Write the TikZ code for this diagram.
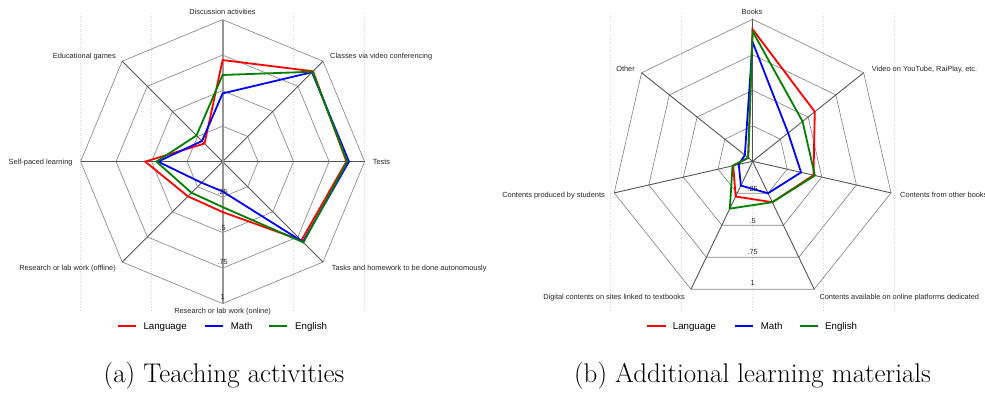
\documentclass[tikz,border=0pt]{standalone}
\usepackage{fontspec}
\newfontfamily\arialf{Liberation Sans}
\definecolor{lang}{RGB}{255,0,0}
\definecolor{mathc}{RGB}{0,0,255}
\definecolor{engl}{RGB}{0,128,0}
\definecolor{ringc}{RGB}{128,128,128}
\definecolor{spokec}{RGB}{85,85,85}
\definecolor{vaxis}{RGB}{150,150,150}
\definecolor{dotc}{RGB}{215,215,215}
\begin{document}
\begin{tikzpicture}[x=1pt,y=1pt,
  lab/.style={font=\arialf\fontsize{7.4}{8}\selectfont, inner sep=0pt, text=black!85},
  rlab/.style={font=\arialf\fontsize{7.4}{8}\selectfont, inner sep=0pt, text=black!85, anchor=center},
  leg/.style={font=\arialf\fontsize{9.7}{11}\selectfont, inner sep=0pt, anchor=base west},
  legline/.style={line width=1.8pt},
  ring/.style={draw=ringc, line width=0.6pt},
  spoke/.style={draw=spokec, line width=0.9pt},
  series/.style={line width=1.8pt, line join=miter},
  gridv/.style={draw=dotc, dotted, line width=0.6pt},
  captext/.style={font=\fontsize{27}{31}\selectfont, inner sep=0pt, anchor=base}]
\useasboundingbox (0,0) rectangle (985,394);
\fill[white] (0,0) rectangle (985,394);

% ---------------- left chart ----------------
\begin{scope}[shift={(222.6,232.4)}]
  \foreach \dx in {-142,-71,71,142} \draw[gridv] (\dx,148.3) -- (\dx,-150.1);
  \foreach \f in {0.25,0.5,0.75,1}
    \draw[ring] (90:{\f*142}) \foreach \a in {45,0,-45,-90,-135,180,135} { -- (\a:{\f*142}) } -- cycle;
  \foreach \a in {45,0,-45,-135,180,135} \draw[spoke] (0,0) -- (\a:142);
  \draw[vaxis, line width=1.8pt] (0,-142) -- (0,142);
  \foreach \a/\v [count=\i] in {90/0.715,45/0.90,0/0.872,-45/0.785,-90/0.355,-135/0.346,180/0.545,135/0.18}
    \coordinate (Lr\i) at (\a:{\v*142});
  \foreach \a/\v [count=\i] in {90/0.48,45/0.89,0/0.89,-45/0.80,-90/0.21,-135/0.21,180/0.455,135/0.205}
    \coordinate (Lb\i) at (\a:{\v*142});
  \foreach \a/\v [count=\i] in {90/0.61,45/0.895,0/0.878,-45/0.805,-90/0.32,-135/0.31,180/0.466,135/0.26}
    \coordinate (Lg\i) at (\a:{\v*142});
  \draw[series, lang] (Lr1) \foreach \i in {2,...,8} { -- (Lr\i) } -- cycle;
  \draw[series, mathc] (Lb1) \foreach \i in {2,...,8} { -- (Lb\i) } -- cycle;
  \draw[series, engl] (Lg1) \foreach \i in {2,...,8} { -- (Lg\i) } -- cycle;
  \node[rlab] (Lt25) at (0,-30.7) {.25};
  \node[rlab] (Lt50) at (0,-66.1) {.5};
  \node[rlab] (Lt75) at (0,-100.1) {.75};
  \node[rlab] (Lt100) at (0,-135.7) {1};
\end{scope}
\node[lab, anchor=base] (la1) at (222.6,379.0) {Discussion activities};
\node[lab, anchor=base west] (la2) at (330,335.4) {Classes via video conferencing};
\node[lab, anchor=base east] (la8) at (116,335.4) {Educational games};
\node[lab, anchor=base east] (la7) at (72.7,229.7) {Self-paced learning};
\node[lab, anchor=base west] (la3) at (372.7,229.7) {Tests};
\node[lab, anchor=base west] (la4) at (331.7,124.0) {Tasks and homework to be done autonomously};
\node[lab, anchor=base east] (la6) at (116,124.0) {Research or lab work (offline)};
\node[lab, anchor=base] (la5) at (222.6,80.3) {Research or lab work (online)};

\coordinate (lk1a) at (118.3,68); \coordinate (lk1b) at (136,68);
\coordinate (lk2a) at (205,68);   \coordinate (lk2b) at (222.7,68);
\coordinate (lk3a) at (269.3,68); \coordinate (lk3b) at (287.3,68);
\draw[legline, lang] (lk1a) -- (lk1b);
\draw[legline, mathc] (lk2a) -- (lk2b);
\draw[legline, engl] (lk3a) -- (lk3b);
\node[leg] (lg1) at (143.3,64.5) {Language};
\node[leg] (lg2) at (230.7,64.5) {Math};
\node[leg] (lg3) at (295,64.5) {English};

% ---------------- right chart ----------------
\begin{scope}[shift={(752.6,232.7)}]
  \foreach \dx in {-142,-71,0,71,142} \draw[gridv] (\dx,148.0) -- (\dx,-150.4);
  \foreach \f in {0.25,0.5,0.75,1}
    \draw[ring] (90:{\f*142}) \foreach \a in {38.571,-12.857,-64.286,-115.714,-167.143,141.429} { -- (\a:{\f*142}) } -- cycle;
  \foreach \a in {90,38.571,-12.857,-64.286,-115.714,-167.143,141.429} \draw[spoke] (0,0) -- (\a:142);
  \foreach \a/\v [count=\i] in {90/0.93,38.571/0.56,-12.857/0.44,-64.286/0.32,-115.714/0.275,-167.143/0.14,141.429/0.04}
    \coordinate (Rr\i) at (\a:{\v*142});
  \foreach \a/\v [count=\i] in {90/0.84,38.571/0.32,-12.857/0.35,-64.286/0.25,-115.714/0.19,-167.143/0.10,141.429/0.07}
    \coordinate (Rb\i) at (\a:{\v*142});
  \foreach \a/\v [count=\i] in {90/0.915,38.571/0.45,-12.857/0.45,-64.286/0.32,-115.714/0.37,-167.143/0.145,141.429/0.04}
    \coordinate (Rg\i) at (\a:{\v*142});
  \draw[series, lang] (Rr1) \foreach \i in {2,...,7} { -- (Rr\i) } -- cycle;
  \draw[series, mathc] (Rb1) \foreach \i in {2,...,7} { -- (Rb\i) } -- cycle;
  \draw[series, engl] (Rg1) \foreach \i in {2,...,7} { -- (Rg\i) } -- cycle;
  \node[rlab] (Rt25) at (0,-28) {.25};
  \node[rlab] (Rt50) at (0,-59.7) {.5};
  \node[rlab] (Rt75) at (0,-90.4) {.75};
  \node[rlab] (Rt100) at (0,-122) {1};
\end{scope}
\node[lab, anchor=base] (rb1) at (752,379.0) {Books};
\node[lab, anchor=base west] (rb2) at (871.7,322.4) {Video on YouTube, RaiPlay, etc.};
\node[lab, anchor=base east] (rb7) at (635,322.4) {Other};
\node[lab, anchor=base west] (rb3) at (900,196.4) {Contents from other books};
\node[lab, anchor=base east] (rb6) at (605,196.4) {Contents produced by students};
\node[lab, anchor=base east] (rb5) at (685,94.7) {Digital contents on sites linked to textbooks};
\node[lab, anchor=base west] (rb4) at (819.3,94.7) {Contents available on online platforms dedicated};

\coordinate (rk1a) at (647.3,68); \coordinate (rk1b) at (665.7,68);
\coordinate (rk2a) at (735,68);   \coordinate (rk2b) at (753.3,68);
\coordinate (rk3a) at (800,68);   \coordinate (rk3b) at (818.3,68);
\draw[legline, lang] (rk1a) -- (rk1b);
\draw[legline, mathc] (rk2a) -- (rk2b);
\draw[legline, engl] (rk3a) -- (rk3b);
\node[leg] (rg1) at (672.7,64.5) {Language};
\node[leg] (rg2) at (760.7,64.5) {Math};
\node[leg] (rg3) at (825,64.5) {English};

% ---------------- captions ----------------
\node[captext] (capa) at (224,12) {(a) Teaching activities};
\node[captext] (capb) at (752.5,12) {(b) Additional learning materials};
\end{tikzpicture}
\end{document}
